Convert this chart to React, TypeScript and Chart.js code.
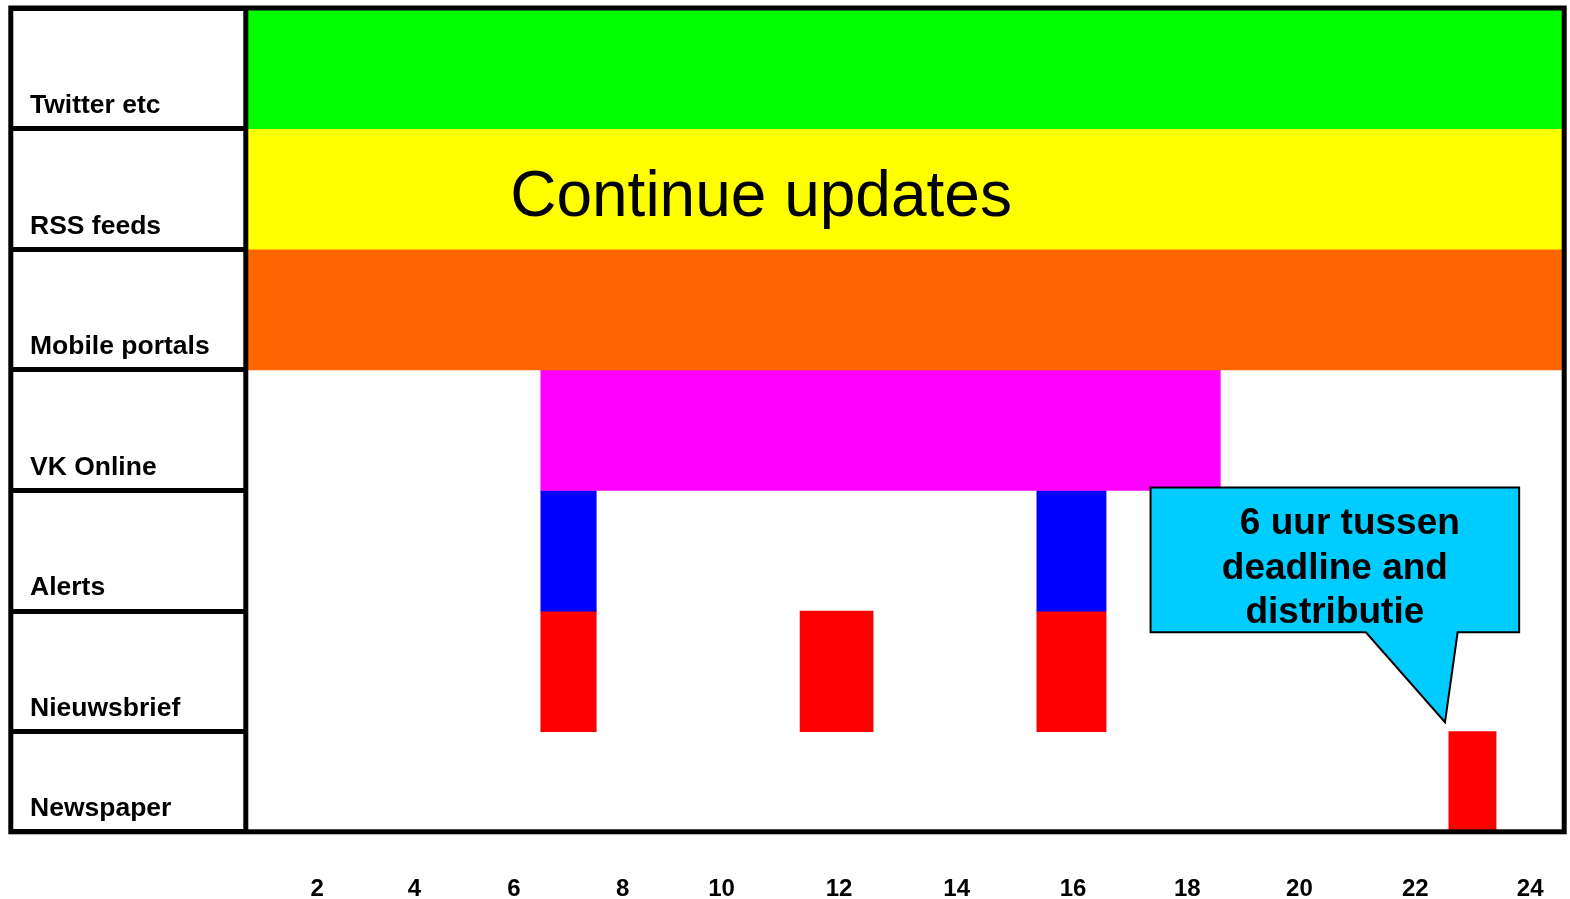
import React, { useEffect, useRef } from 'react';
import { Chart, registerables } from 'chart.js';

Chart.register(...registerables);

// ---------- data ----------
const rowLabels = ['Twitter etc', 'RSS feeds', 'Mobile portals', 'VK Online', 'Alerts', 'Nieuwsbrief', 'Newspaper'];
// bottom edge of every row on the (reversed) row axis; the last row is shorter
const rowBottoms = [1, 2, 3, 4, 5, 6, 6.83];
const rowColors = ['#00FF00', '#FFFF00', '#FF6600', '#FF00FF', '#0000FF', '#FF0000', '#FF0000'];

// [start, end] on the time axis (0..24)
const twitterBars = [[0, 24]];
const rssBars = [[0, 24]];
const mobileBars = [[0, 24]];
const vkOnlineBars = [[5.37, 17.74]];
const alertsBars = [[5.37, 6.38], [14.4, 15.66]];
const nieuwsbriefBars = [[5.37, 6.38], [10.09, 11.42], [14.4, 15.66]];
const newspaperBars = [[21.9, 22.76]];
const seriesByRow = [twitterBars, rssBars, mobileBars, vkOnlineBars, alertsBars, nieuwsbriefBars, newspaperBars];

// tick labels and where they sit on the time axis
const xTickValues = [1.3, 3.07, 4.88, 6.86, 8.66, 10.8, 12.94, 15.06, 17.14, 19.18, 21.29, 23.38];
const xTickLabels = ['2', '4', '6', '8', '10', '12', '14', '16', '18', '20', '22', '24'];

const bannerText = 'Continue updates';
const calloutLines = ['6 uur tussen', 'deadline and', 'distributie'];

// ---------- layout / style ----------
const FONT = "'Liberation Sans', Arial, Helvetica, sans-serif";
const W = 1570;
const H = 899;
const LABEL_COLUMN = 235;

const bannerPos = { x: 9.38, y: 1.575 };
const callout = { left: 16.47, right: 23.18, top: 3.975, bottom: 5.176, tailLeft: 20.39, tailRight: 22.06, tipX: 21.83, tipY: 5.922 };

const overlayPlugin = {
  id: 'overlay',
  afterDatasetsDraw(chart: any) {
    const { ctx, chartArea, scales } = chart;
    const px = (v: number) => scales.x.getPixelForValue(v);
    const py = (v: number) => scales.y.getPixelForValue(v);
    ctx.save();

    // outer frame and column divider
    const frameLeft = chartArea.left - LABEL_COLUMN;
    ctx.lineWidth = 5;
    ctx.strokeStyle = '#000';
    ctx.lineJoin = 'miter';
    ctx.strokeRect(frameLeft, chartArea.top, chartArea.right - frameLeft, chartArea.bottom - chartArea.top);
    ctx.beginPath();
    ctx.moveTo(chartArea.left, chartArea.top);
    ctx.lineTo(chartArea.left, chartArea.bottom);
    ctx.stroke();

    // banner text
    ctx.fillStyle = '#000';
    ctx.font = `64px ${FONT}`;
    ctx.textAlign = 'center';
    ctx.textBaseline = 'middle';
    ctx.fillText(bannerText, px(bannerPos.x), py(bannerPos.y));

    // callout
    const L = px(callout.left);
    const R = px(callout.right);
    const T = py(callout.top);
    const B = py(callout.bottom);
    ctx.beginPath();
    ctx.moveTo(L, T);
    ctx.lineTo(R, T);
    ctx.lineTo(R, B);
    ctx.lineTo(px(callout.tailRight), B);
    ctx.lineTo(px(callout.tipX), py(callout.tipY));
    ctx.lineTo(px(callout.tailLeft), B);
    ctx.lineTo(L, B);
    ctx.closePath();
    ctx.fillStyle = '#00CCFF';
    ctx.fill();
    ctx.lineWidth = 2;
    ctx.strokeStyle = '#000';
    ctx.stroke();

    ctx.fillStyle = '#000';
    ctx.font = `bold 37px ${FONT}`;
    ctx.textAlign = 'center';
    ctx.textBaseline = 'alphabetic';
    const cx = (L + R) / 2;
    calloutLines.forEach((line, i) => {
      ctx.fillText(line, cx + (i === 0 ? 15 : 0), T + 46.5 + i * 44.7);
    });

    ctx.restore();
  },
};

export default function App() {
  const canvasRef = useRef<HTMLCanvasElement | null>(null);

  useEffect(() => {
    const canvas = canvasRef.current;
    if (!canvas) return;

    const datasets = rowLabels.map((label, i) => ({
      label,
      data: seriesByRow[i].map(([s, e]) => ({ x: [s, e], y: i + 0.5 })),
      backgroundColor: rowColors[i],
      borderWidth: 0,
      grouped: false,
      categoryPercentage: 1,
      barPercentage: 1,
      clip: 0,
      xAxisID: 'x',
      yAxisID: 'y',
    }));

    const chart = new Chart(canvas, {
      type: 'bar',
      data: { datasets: datasets as any },
      plugins: [overlayPlugin],
      options: {
        indexAxis: 'y',
        animation: false,
        responsive: false,
        devicePixelRatio: 1,
        layout: { padding: { left: 30, top: 8, right: W - 1564.2, bottom: 0 } },
        plugins: { legend: { display: false }, tooltip: { enabled: false } },
        events: [],
        scales: {
          x: {
            type: 'linear',
            position: 'bottom',
            min: 0,
            max: 24,
            offset: false,
            grid: { display: false, offset: false },
            border: { display: false },
            afterBuildTicks: (s: any) => {
              s.ticks = xTickValues.map((v) => ({ value: v }));
            },
            afterFit: (s: any) => {
              s.height = H - 831.8;
              s.paddingLeft = 0;
              s.paddingRight = 0;
            },
            ticks: {
              autoSkip: false,
              maxRotation: 0,
              minRotation: 0,
              padding: 35,
              color: '#000',
              font: { family: FONT, size: 24, weight: 'bold', lineHeight: 1.2 },
              callback: (_v: any, i: number) => xTickLabels[i],
            },
          },
          y: {
            type: 'linear',
            reverse: true,
            offset: false,
            min: 0,
            max: rowBottoms[rowBottoms.length - 1],
            display: false,
            grid: { offset: false },
            afterBuildTicks: (s: any) => {
              s.ticks = [0, ...rowBottoms.slice(0, -1)].map((v) => ({ value: v }));
            },
          },
          yl: {
            type: 'linear',
            position: 'left',
            reverse: true,
            offset: false,
            min: 0,
            max: rowBottoms[rowBottoms.length - 1],
            afterBuildTicks: (s: any) => {
              s.ticks = [0, ...rowBottoms].map((v) => ({ value: v }));
            },
            afterFit: (s: any) => {
              s.width = 245.8 - 30;
              s.paddingTop = 0;
              s.paddingBottom = 0;
            },
            grid: { offset: false, drawOnChartArea: false, drawTicks: true, tickLength: LABEL_COLUMN, lineWidth: 5, color: '#000' },
            border: { display: false },
            ticks: {
              autoSkip: false,
              crossAlign: 'far',
              labelOffset: -23,
              padding: 0,
              color: '#000',
              font: { family: FONT, size: 26.5, weight: 'bold', lineHeight: 1.2 },
              callback: (v: any) => {
                const i = rowBottoms.indexOf(Number(v));
                return i >= 0 ? rowLabels[i] : '';
              },
            },
          },
        } as any,
      },
    });

    return () => chart.destroy();
  }, []);

  return (
    <div style={{ position: 'absolute', left: 0, top: 0, width: W, height: H, background: '#fff' }}>
      <canvas ref={canvasRef} width={W} height={H} style={{ display: 'block', width: W, height: H }} />
    </div>
  );
}
